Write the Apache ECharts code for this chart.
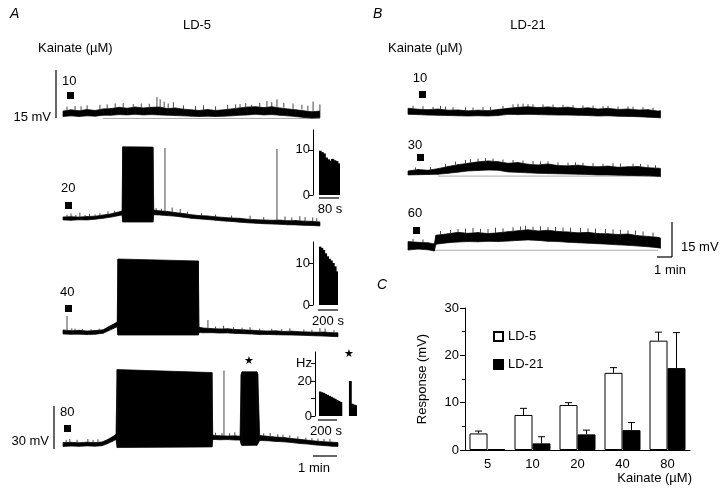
<!DOCTYPE html>
<html>
<head>
<meta charset="utf-8">
<script src="https://cdn.jsdelivr.net/npm/echarts@6/dist/echarts.min.js"></script>
<style>
html, body { margin: 0; padding: 0; background: #fff; }
#main { width: 720px; height: 501px; }
</style>
</head>
<body>
<div id="main"></div>
<script>
// ---- panel A (LD-5), time in s, membrane potential in mV ----
var tA1 = [0,20,40,60,80,100,120,140,160,180,200,220,240,260,280,300,320,340,360,380,400,420,440,460,480,500,520,540,560,580,600,620,640];
var loA1 = [0.1,0.3,0.1,0.3,0.2,0.5,0.5,0.7,0.6,0.8,0.6,0.7,0.6,0.5,0.4,0.3,0.2,0.1,0.2,0.1,0.2,0.3,0.5,0.6,0.8,0.6,0.7,0.5,0.3,0.1,-0.2,-0.4,-0.3];
var hiA1 = [1.8,2.2,1.9,2.3,2.0,2.5,2.6,3.0,2.7,3.1,2.8,3.0,3.1,2.6,2.8,2.4,2.2,2.0,2.3,2.0,2.2,2.5,2.8,3.1,3.2,2.9,3.2,2.8,2.5,2.2,1.9,1.6,1.8];
var spikesA1 = [[10,3.2,1.9],[30,3.4,2.1],[45,3.3,2.0],[60,3.6,2.2],[92,3.8,2.3],[110,3.9,2.5],[130,4.2,2.8],[150,4.3,2.8],[175,4.0,2.9],[195,4.2,2.9],[215,4.1,2.9],[234,6.2,3.0],[242,5.5,3.0],[252,4.8,2.9],[262,4.2,2.7],[275,4.6,2.8],[300,3.6,2.4],[330,3.4,2.1],[350,3.6,2.1],[380,3.3,2.0],[410,3.8,2.3],[430,3.9,2.6],[441,4.0,2.8],[455,4.3,2.9],[470,3.8,3.0],[490,4.4,3.1],[508,5.0,3.1],[520,4.6,3.1],[533,5.5,3.1],[550,4.4,2.9],[573,4.2,2.5],[595,3.8,2.3],[610,3.5,2.0],[623,4.8,1.7],[640,3.9,1.8]];
var baseA1 = [[100,-0.5],[640,-0.5]];

var tA2 = [0,20,40,60,80,100,120,135,147,149,224,226,240,260,280,300,320,340,360,380,400,420,440,460,480,500,520,540,560,580,600,620,640];
var loA2 = [1.7,1.5,1.8,1.7,2.2,2.8,3.6,4.4,5.0,0.3,0.3,5.2,5.0,4.6,4.2,3.5,2.8,2.4,2.0,1.5,1.0,0.7,0.2,-0.2,-0.5,-0.8,-1.0,-1.2,-1.5,-1.6,-1.9,-2.0,-2.3];
var hiA2 = [3.7,3.9,3.6,4.0,4.2,5.0,5.8,6.8,7.6,50.5,50.3,8.3,7.8,7.4,6.6,6.0,5.2,4.6,4.4,3.8,3.4,3.0,2.8,2.2,1.9,1.7,1.5,1.6,1.2,1.3,0.9,0.8,0.4];
var spikesA2 = [[10,5.2,3.6],[20,6.0,3.5],[32,5.0,3.6],[42,6.5,3.5],[55,5.0,3.8],[66,5.8,3.8],[80,5.4,4.0],[92,6.2,4.6],[112,7.5,5.5],[128,7.8,6.3],[232,9.6,8.0],[245,9.2,7.6],[254,49.7,7.4],[272,10,7],[292,9,6.2],[310,7.2,5.6],[345,6.2,4.5],[380,5.2,3.7],[420,4.6,2.9],[466,4.5,2.1],[500,3.6,1.7],[533,49,1.5],[553,4.0,1.4],[570,3.4,1.2],[590,4.2,1.1],[603,3.6,0.9],[622,3.4,0.8],[632,2.8,0.6]];

var tA3 = [0,20,40,60,80,100,112,125,135,137,337,339,350,370,390,410,430,450,470,490,510,530,550,570,590,610,630,650,670,685];
var loA3 = [1.0,0.8,0.9,0.6,0.8,1.5,3.0,4.6,5.8,0.3,0.3,2.0,1.8,1.9,1.6,1.7,1.4,1.2,1.0,0.6,0.7,0.5,0.4,0.3,0.2,0.0,-0.2,-0.4,-0.6,-0.8];
var hiA3 = [3.7,3.2,3.5,3.0,3.3,3.8,5.6,7.5,9.0,51.0,49.7,5.5,5.0,4.6,4.4,4.5,4.0,3.8,3.5,3.2,3.0,3.1,2.7,2.9,2.5,2.4,2.2,2.3,1.9,1.8];
var spikesA3 = [[10,13,3],[22,4.8,3],[30,4.6,3],[48,4.4,3.2],[70,4.2,3],[90,4.5,3.1],[361,10.3,4.8],[380,6.0,4.5],[400,6.5,4.4],[425,5.6,4.0],[446,5.2,3.8],[466,5.5,3.5],[490,4.6,3.2],[520,4.5,3],[545,4.2,2.8],[565,4.8,2.9],[600,4.0,2.4],[620,3.8,2.2],[640,5,2.2],[653,4.6,2.2],[675,3.6,1.9]];

var tA4 = [0,20,40,60,80,97,110,122,132,135,371,373,390,410,430,441,444,446,483,485,490,510,530,550,570,590,610,630,650,670,685];
var loA4 = [0.0,0.3,0.1,0.4,0.2,0.5,1.8,3.3,4.7,-0.7,-0.3,4.7,4.5,4.6,4.3,4.3,1.5,0.6,0.8,1.8,4.0,3.8,3.4,3.1,2.6,2.0,1.6,1.0,0.6,0.2,0.0];
var hiA4 = [2.6,2.8,2.5,2.9,2.6,3.0,4.5,6.3,8.0,51.3,49.3,7.5,7.2,7.0,7.1,6.9,48.0,49.8,49.8,48.2,7.3,6.8,6.3,6.0,5.3,4.8,4.2,3.6,3.2,2.9,2.6];
var spikesA4 = [[8,4.4,2.7],[17,5,2.8],[35,4.5,2.6],[62,5,2.9],[75,4.4,2.7],[87,4.8,2.7],[380,9.2,7.3],[396,9,7.1],[401,50.7,7],[415,8.8,7.0],[428,9.5,7.1],[500,8.8,7.0],[516,9,6.6],[535,8.2,6.3],[548,8,6],[565,7.5,5.5],[585,6.8,4.8],[605,6.0,4.3],[620,5.6,3.9],[635,5.2,3.5],[650,5.0,3.2],[665,5,3]];

// firing-rate insets (Hz)
var histA2 = [9.8,9.5,9.2,8.3,7.9,7.6,8.0,7.7,7.5,7.0];
var histA3 = [13.9,13.6,13.1,12.3,11.6,11.0,10.6,10.0,9.2,8.0];
var histA4 = [14.0,13.6,13.2,12.6,12.1,11.5,11.0,10.4,9.8,9.2,8.6,8.0,0,0,0,0,20,7.0,6.5,6.2];

// ---- panel B (LD-21) ----
var tB = [0,40,80,120,160,200,240,280,320,360,400,440,480,520,560,600,640,680,720,760,800,840,880,920,960,1000,1010];
var loB1 = [1.7,1.6,1.4,1.3,1.2,1.1,1.0,1.1,1.0,1.2,1.7,1.6,1.7,1.6,1.5,1.4,1.4,1.3,1.2,1.0,1.1,0.9,0.8,0.7,0.5,0.3,0.2];
var hiB1 = [4.3,3.9,3.7,4.0,3.5,3.6,3.2,3.5,3.3,3.8,4.3,4.7,5.0,4.6,4.9,4.5,4.8,4.2,4.5,4.0,4.3,3.8,4.0,3.6,3.7,3.1,3.3];
var spikesB1 = [[20,5.4,3.9],[60,5.2,3.8],[100,4.9,3.6],[130,5.3,3.8],[150,5.0,3.5],[180,4.8,3.5],[230,4.7,3.3],[260,4.6,3.3],[300,4.8,3.3],[330,4.9,3.4],[380,5.3,3.9],[420,6,4.5],[440,6.2,4.6],[460,6.3,4.8],[480,6.1,4.8],[500,6,4.7],[540,6.0,4.7],[580,5.9,4.6],[620,5.8,4.5],[660,5.6,4.4],[700,5.5,4.2],[740,5.4,4.2],[780,5.2,4.1],[800,5.3,4],[840,5.0,3.8],[880,5.1,3.8],[900,5,3.7],[940,4.8,3.6],[980,4.6,3.3]];

var loB2 = [0.6,0.7,0.8,0.9,1.3,1.8,2.3,2.5,2.7,2.6,1.9,1.7,1.5,1.3,1.2,1.1,1.0,0.9,0.8,0.6,0.6,0.5,0.4,0.3,0.2,0.0,-0.1];
var hiB2 = [2.3,2.9,2.6,3.3,4.2,5.0,5.6,6.2,6.6,6.3,5.6,5.9,5.2,4.9,5.3,4.6,4.5,4.8,4.3,4.1,4.4,3.9,4.1,4.2,3.7,3.5,3.4];
var spikesB2 = [[30,3.8,2.5],[90,4.0,2.8],[150,5.3,4.0],[190,6.3,5.0],[230,7.0,5.5],[250,7.4,5.8],[280,7.6,6],[310,7.8,6.4],[340,7.6,6.3],[380,7.2,6],[420,7.0,5.7],[460,6.8,5.5],[500,6.6,5.1],[530,6.4,5.0],[560,6.4,5],[600,6.0,4.6],[640,5.9,4.5],[670,6.0,4.7],[700,5.8,4.3],[740,5.6,4.2],[780,5.4,4.2],[820,5.6,4.2],[850,5.5,4.1],[900,5.4,4.1],[930,5.3,4.0],[960,5,3.5],[990,4.8,3.4]];
var baseB2 = [[120,0.1],[1000,0.1]];

var tB3 = [0,40,80,105,112,160,200,240,280,320,360,400,440,480,520,560,600,640,680,720,760,800,840,880,920,960,1000,1010];
var loB3 = [0.1,0.5,0.2,-0.3,2.6,3.2,3.5,3.7,3.6,3.8,3.7,3.9,4.2,4.4,4.2,3.8,3.7,3.4,3.2,3.0,2.8,2.6,2.3,2.1,1.8,1.5,1.1,0.9];
var hiB3 = [3.7,3.4,3.2,2.7,6.4,7.0,7.6,7.2,7.5,7.1,7.4,7.9,8.3,8.7,8.2,8.5,8.0,7.8,7.4,7.6,7.1,7.0,6.7,6.9,6.2,5.9,5.5,5.2];
var spikesB3 = [[20,4.8,3.6],[60,4.6,3.3],[130,8.2,6.6],[170,8.6,7.0],[200,9,7.4],[230,9.2,7.4],[260,9.5,7.3],[290,9.1,7.4],[320,9.0,7.2],[350,9.6,7.2],[380,9.3,7.4],[420,9.8,7.9],[450,10.1,8.2],[470,10.4,8.6],[500,10,8.5],[530,10.2,8.3],[560,9.8,8.3],[590,9.9,8.2],[620,9.7,7.9],[650,9.6,7.6],[690,9.5,7.4],[720,9.3,7.5],[750,9.2,7.2],[790,9.0,7.0],[820,8.9,6.9],[850,8.7,6.8],[880,8.5,6.8],[910,8.4,6.6],[940,8.0,6.1],[980,7.5,5.7]];
var baseB3 = [[100,0],[1000,0]];

// ---- panel C: dose-response ----
var doses = ['5','10','20','40','80'];
var ld5 = [3.5,7.4,9.5,16.3,23.1];
var ld5Err = [0.5,1.4,0.5,1.1,1.8];
var ld21 = [0.2,1.4,3.3,4.2,17.3];
var ld21Err = [0,1.4,0.9,1.6,7.5];

var FONT = 'Liberation Sans';

var grids = [
    {left: 63, top: 66, width: 277, height: 54},
    {left: 63, top: 140, width: 277, height: 90},
    {left: 63, top: 253, width: 277, height: 90},
    {left: 63, top: 364, width: 277, height: 90},
    {left: 319, top: 130, width: 21, height: 65},
    {left: 319, top: 242, width: 19, height: 63},
    {left: 319, top: 352, width: 38, height: 64},
    {left: 408, top: 95, width: 255, height: 28},
    {left: 408, top: 153, width: 255, height: 28},
    {left: 408, top: 222, width: 255, height: 33},
    {left: 465, top: 308, width: 225, height: 142}
];

function timeAxis(g, max) {
    return {type: 'value', gridIndex: g, min: 0, max: max, show: false};
}
function mvAxis(g, min, max) {
    return {type: 'value', gridIndex: g, min: min, max: max, show: false};
}
function binAxis(g, arr) {
    return {type: 'category', gridIndex: g, data: arr.map(function (v, i) { return i; }), show: false};
}
function hzAxis(g, max, offset, ticks, fmt) {
    return {
        type: 'value', gridIndex: g, min: 0, max: max, offset: offset,
        axisLine: {show: true, lineStyle: {color: '#000', width: 1}},
        axisTick: {show: true, length: 4, customValues: ticks, lineStyle: {color: '#000'}},
        axisLabel: {color: '#000', fontSize: 13, fontFamily: FONT, margin: 3, customValues: ticks, formatter: fmt},
        splitLine: {show: false}
    };
}

var xAxes = [
    timeAxis(0, 690), timeAxis(1, 690), timeAxis(2, 690), timeAxis(3, 690),
    binAxis(4, histA2), binAxis(5, histA3), binAxis(6, histA4),
    timeAxis(7, 1020), timeAxis(8, 1020), timeAxis(9, 1020),
    {
        type: 'category', gridIndex: 10, data: doses,
        axisLine: {lineStyle: {color: '#000', width: 1}},
        axisTick: {show: false},
        axisLabel: {color: '#000', fontSize: 13, fontFamily: FONT, margin: 8}
    }
];

var yAxes = [
    mvAxis(0, -1, 16), mvAxis(1, -5, 55), mvAxis(2, -5, 55), mvAxis(3, -5, 55),
    hzAxis(4, 14.4, 6, [0, 10]),
    hzAxis(5, 15, 6, [0, 10]),
    hzAxis(6, 36.6, 4, [0, 10, 20, 30], function (v) { return v === 30 ? 'Hz' : (v === 10 ? '' : v); }),
    mvAxis(7, -2, 10), mvAxis(8, -2, 10), mvAxis(9, -2, 12),
    {
        type: 'value', gridIndex: 10, min: 0, max: 30, interval: 10,
        name: 'Response (mV)', nameLocation: 'middle', nameGap: 36,
        nameTextStyle: {color: '#000', fontSize: 13, fontFamily: FONT},
        axisLine: {show: true, lineStyle: {color: '#000', width: 1}},
        axisTick: {show: true, length: 5, lineStyle: {color: '#000'}},
        minorTick: {show: true, splitNumber: 2, length: 3, lineStyle: {color: '#000'}},
        axisLabel: {color: '#000', fontSize: 13, fontFamily: FONT, margin: 6},
        splitLine: {show: false}
    }
];

var series = [];

// noisy trace: filled band between lower and upper envelope, one strip per sample step
function addTrace(g, t, lo, hi) {
    series.push({
        type: 'custom', xAxisIndex: g, yAxisIndex: g, silent: true, z: 3,
        data: t.map(function (v, i) { return [v, lo[i], hi[i]]; }),
        encode: {x: 0, y: [1, 2]},
        renderItem: function (params, api) {
            var i = params.dataIndexInside;
            if (i >= params.dataInsideLength - 1) return null;
            var a1 = api.coord([api.value(0, i), api.value(2, i)]);
            var a2 = api.coord([api.value(0, i + 1), api.value(2, i + 1)]);
            var b2 = api.coord([api.value(0, i + 1), api.value(1, i + 1)]);
            var b1 = api.coord([api.value(0, i), api.value(1, i)]);
            return {type: 'polygon', shape: {points: [a1, a2, b2, b1]},
                    style: {fill: '#000', stroke: '#000', lineWidth: 0.7}};
        }
    });
}
function addSpikes(g, data) {
    series.push({
        type: 'custom', xAxisIndex: g, yAxisIndex: g, data: data, silent: true, z: 4,
        encode: {x: 0, y: [1, 2]},
        renderItem: function (params, api) {
            var a = api.coord([api.value(0), api.value(2)]);
            var b = api.coord([api.value(0), api.value(1)]);
            return {type: 'line', shape: {x1: a[0], y1: a[1], x2: b[0], y2: b[1]},
                    style: {stroke: '#333', lineWidth: 0.9}};
        }
    });
}
function addBaseline(g, data) {
    series.push({
        type: 'line', xAxisIndex: g, yAxisIndex: g, data: data, symbol: 'none', silent: true,
        lineStyle: {color: '#aaa', width: 1}, z: 2
    });
}
function addHist(g, data) {
    series.push({
        type: 'bar', xAxisIndex: g, yAxisIndex: g, data: data, barWidth: '150%',
        silent: true, itemStyle: {color: '#000'}
    });
}

addBaseline(0, baseA1);
addTrace(0, tA1, loA1, hiA1); addSpikes(0, spikesA1);
addTrace(1, tA2, loA2, hiA2); addSpikes(1, spikesA2);
addTrace(2, tA3, loA3, hiA3); addSpikes(2, spikesA3);
addTrace(3, tA4, loA4, hiA4); addSpikes(3, spikesA4);
addHist(4, histA2); addHist(5, histA3); addHist(6, histA4);
addTrace(7, tB, loB1, hiB1); addSpikes(7, spikesB1);
addBaseline(8, baseB2);
addTrace(8, tB, loB2, hiB2); addSpikes(8, spikesB2);
addBaseline(9, baseB3);
addTrace(9, tB3, loB3, hiB3); addSpikes(9, spikesB3);

// bar chart C
series.push({
    name: 'LD-5', type: 'bar', xAxisIndex: 10, yAxisIndex: 10, data: ld5,
    barGap: '0%', barCategoryGap: '20%',
    itemStyle: {color: '#fff', borderColor: '#000', borderWidth: 1}
});
series.push({
    name: 'LD-21', type: 'bar', xAxisIndex: 10, yAxisIndex: 10, data: ld21,
    barGap: '0%', barCategoryGap: '20%',
    itemStyle: {color: '#000', borderColor: '#000', borderWidth: 1}
});
function errSeries(vals, errs, side) {
    return {
        type: 'custom', xAxisIndex: 10, yAxisIndex: 10, silent: true, z: 5,
        data: vals.map(function (v, i) { return [i, v, errs[i]]; }),
        encode: {x: 0, y: 1},
        renderItem: function (params, api) {
            var e = api.value(2);
            if (!e) return null;
            var v = api.value(1);
            var band = api.size([1, 0])[0];
            var p0 = api.coord([api.value(0), v]);
            var p1 = api.coord([api.value(0), v + e]);
            var cx = p0[0] + side * band * 0.2;
            return {type: 'group', children: [
                {type: 'line', shape: {x1: cx, y1: p0[1], x2: cx, y2: p1[1]}, style: {stroke: '#000', lineWidth: 1}},
                {type: 'line', shape: {x1: cx - 3.5, y1: p1[1], x2: cx + 3.5, y2: p1[1]}, style: {stroke: '#000', lineWidth: 1}}
            ]};
        }
    };
}
series.push(errSeries(ld5, ld5Err, -1));
series.push(errSeries(ld21, ld21Err, 1));

function txt(x, y, s, align, font) {
    return {type: 'text', x: x, y: y, silent: true,
            style: {text: s, fill: '#000', font: font || ('13px ' + FONT),
                    textAlign: align || 'left', textVerticalAlign: 'middle'}};
}
function sq(x, y) {
    return {type: 'rect', shape: {x: x, y: y, width: 7, height: 7}, style: {fill: '#000'}, silent: true};
}
function ln(x1, y1, x2, y2) {
    return {type: 'line', shape: {x1: x1, y1: y1, x2: x2, y2: y2}, style: {stroke: '#000', lineWidth: 1.2}, silent: true};
}

var graphics = [
    // panel A
    txt(10, 14, 'A', 'left', 'italic 14px ' + FONT),
    txt(197, 25, 'LD-5', 'center'),
    txt(38, 48, 'Kainate (µM)'),
    txt(62, 81, '10'), sq(67, 92),
    ln(56, 70, 56, 118), txt(51, 117, '15 mV', 'right'),
    txt(61, 188, '20'), sq(65, 202),
    txt(60, 292, '40'), sq(65, 305),
    txt(60, 412, '80'), sq(64, 425),
    ln(54, 406, 54, 449), txt(49, 441, '30 mV', 'right'),
    ln(313, 456, 337, 456), txt(314, 468, '1 min', 'center'),
    ln(319, 198, 339, 198), txt(330, 209, '80 s', 'center'),
    ln(318, 310, 338, 310), txt(328, 321, '200 s', 'center'),
    ln(318, 420, 337, 420), txt(326, 431, '200 s', 'center'),
    txt(249, 361, '★', 'center', '11px DejaVu Sans'),
    txt(349, 354, '★', 'center', '11px DejaVu Sans'),
    // panel B
    txt(373, 14, 'B', 'left', 'italic 14px ' + FONT),
    txt(528, 25, 'LD-21', 'center'),
    txt(388, 48, 'Kainate (µM)'),
    txt(420, 78, '10', 'center'), sq(419, 91),
    txt(415, 145, '30', 'center'), sq(417, 154),
    txt(415, 213, '60', 'center'), sq(413, 227),
    ln(672, 222, 672, 257), ln(657, 257, 672, 257),
    txt(681, 247, '15 mV'), txt(670, 270, '1 min', 'center'),
    // panel C
    txt(377, 285, 'C', 'left', 'italic 14px ' + FONT),
    txt(692, 478, 'Kainate (µM)', 'right')
];

var myChart = echarts.init(document.getElementById('main'));
var option = {
    animation: false,
    backgroundColor: '#fff',
    textStyle: {fontFamily: FONT},
    grid: grids,
    xAxis: xAxes,
    yAxis: yAxes,
    legend: {
        data: ['LD-5', 'LD-21'], orient: 'vertical', left: 488, top: 325,
        icon: 'rect', itemWidth: 9, itemHeight: 9, itemGap: 15,
        textStyle: {color: '#000', fontSize: 13, fontFamily: FONT}
    },
    series: series,
    graphic: graphics
};
myChart.setOption(option);
</script>
</body>
</html>
